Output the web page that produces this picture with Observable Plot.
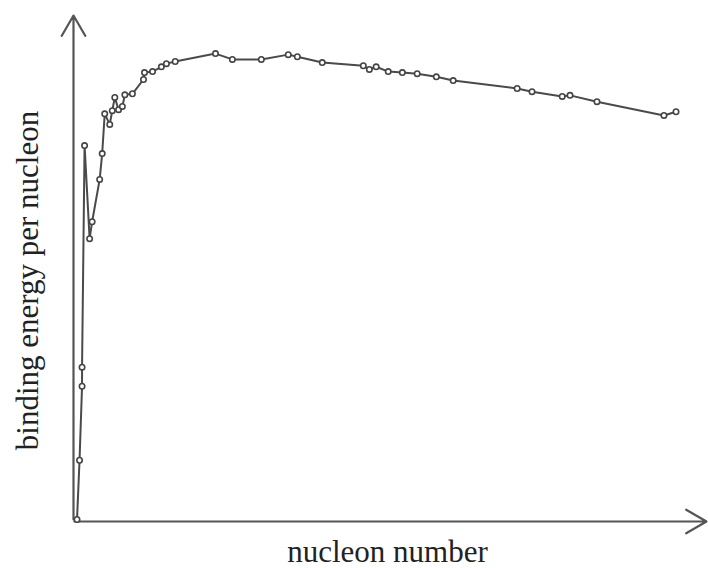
<!DOCTYPE html>
<html>
<head>
<meta charset="utf-8">
<script src="https://cdn.jsdelivr.net/npm/d3@7"></script>
<script src="https://cdn.jsdelivr.net/npm/@observablehq/plot@0.6"></script>
<style>
  html, body { margin: 0; padding: 0; background: #fff; }
</style>
</head>
<body>
<div id="chart"></div>
<script>
// nucleon number (A) and binding energy per nucleon (MeV)
const nucleonNumber = [1, 2, 3, 3, 4, 6, 7, 10, 11, 12, 14, 15, 16, 17.5, 19, 20, 23, 27.4, 27.8, 31, 34.5, 36.5, 40, 56, 62.7, 74.2, 84.9, 88.5, 98.4, 114.7, 117.1, 119.8, 124.6, 130.2, 136.1, 143.7, 150.4, 175.8, 181.7, 193.7, 196.8, 207.5, 234.1, 238.9];
const bindingEnergy = [0, 1.12, 2.52, 2.88, 7.07, 5.31, 5.63, 6.43, 6.92, 7.67, 7.47, 7.73, 7.98, 7.75, 7.81, 8.03, 8.05, 8.32, 8.45, 8.47, 8.56, 8.62, 8.66, 8.81, 8.70, 8.70, 8.79, 8.75, 8.64, 8.58, 8.51, 8.56, 8.47, 8.45, 8.43, 8.37, 8.30, 8.15, 8.09, 8.00, 8.02, 7.90, 7.64, 7.71];
const xLabel = "nucleon number";
const yLabel = "binding energy per nucleon";
const xMax = 251;
const yMax = 9.53;

const data = nucleonNumber.map((a, i) => ({a, be: bindingEnergy[i]}));
const axisColor = "#555";
const font = "'Liberation Serif', 'Times New Roman', serif";

const chart = Plot.plot({
  width: 708,
  height: 568,
  marginLeft: 74,
  marginRight: 2,
  marginTop: 15,
  marginBottom: 49,
  style: {background: "#fff", fontFamily: font},
  x: {domain: [0, xMax], axis: null},
  y: {domain: [0, yMax], axis: null},
  marks: [
    Plot.arrow([{x1: 0, y1: 0, x2: xMax, y2: 0}], {x1: "x1", y1: "y1", x2: "x2", y2: "y2", stroke: axisColor, strokeWidth: 2.2, headLength: 16, headAngle: 60, dy: 2}),
    Plot.arrow([{x1: 0, y1: 0, x2: 0, y2: yMax}], {x1: "x1", y1: "y1", x2: "x2", y2: "y2", stroke: axisColor, strokeWidth: 2.2, headLength: 16, headAngle: 60, dx: -1}),
    Plot.line(data, {x: "a", y: "be", stroke: "#4a4a4a", strokeWidth: 2}),
    Plot.dot(data, {x: "a", y: "be", r: 2.7, stroke: "#444", strokeWidth: 1.6, fill: "#fff"}),
    Plot.text([xLabel], {frameAnchor: "bottom", textAnchor: "middle", text: d => d, dx: -3, dy: 42, fontSize: 31, fill: "#222", fontFamily: font}),
    Plot.text([yLabel], {frameAnchor: "left", textAnchor: "middle", text: d => d, rotate: -90, dx: -46, dy: 13, fontSize: 31, fill: "#222", fontFamily: font})
  ]
});
document.getElementById("chart").append(chart);
</script>
</body>
</html>
